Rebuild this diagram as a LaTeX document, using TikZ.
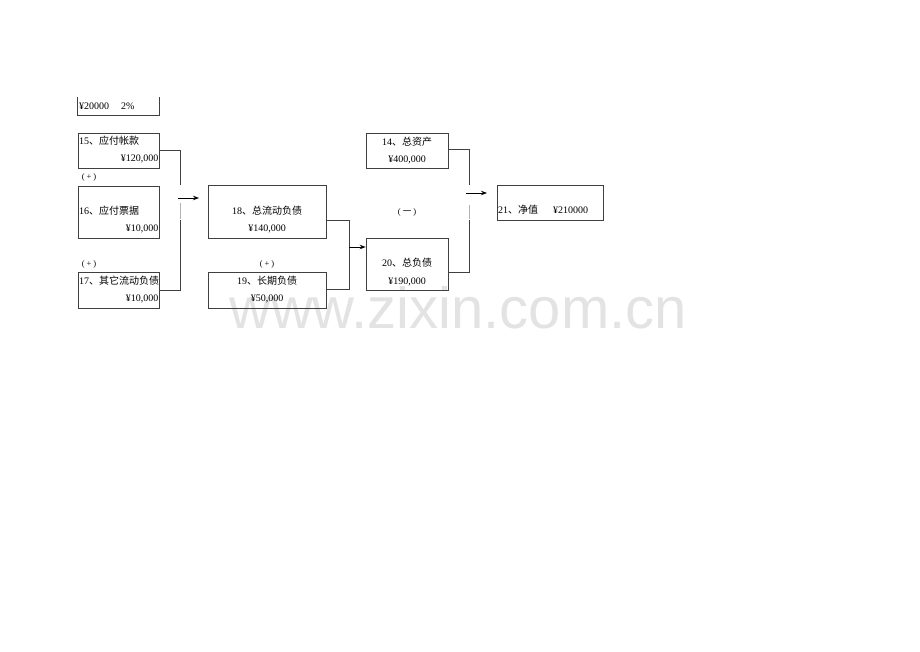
\documentclass[tikz,border=0pt]{standalone}
\usepackage{fontspec}
\setmainfont{Liberation Serif}
\newfontfamily\cjk{Noto Sans CJK SC}
\newfontfamily\wmfont{Liberation Sans}
\usepackage{tikz}
\usetikzlibrary{positioning,arrows.meta}

\begin{document}
\begin{tikzpicture}[>={Stealth[length=6pt,width=4.5pt]}, x=1pt, y=-1pt,
    acct/.style={draw=black!75, line width=0.6pt, inner sep=0pt},
    txt/.style={inner sep=0pt, text height=7pt, text depth=1.5pt,
      font=\fontsize{10}{11}\selectfont},
    sign/.style={inner sep=0pt, text height=6pt, text depth=1.5pt,
      font=\fontsize{8.5}{9}\selectfont},
    link/.style={draw=black!75, line width=0.6pt},
    gaplink/.style={draw=black!30, line width=0.8pt},
    flow/.style={->, line width=1pt}]
    \useasboundingbox (0,0) rectangle (920,651);

    % Watermark
    \node[inner sep=0pt, anchor=base, text=black!11,
      font=\wmfont\fontsize{58}{58}\selectfont] (mark) at (458,328) {www.zixin.com.cn};

    % Remains of the box above
    \draw[acct] (77,97) -- (77,115) -- (159,115) -- (159,97);
    \node[txt, anchor=west] (rate) at (79,107) {¥20000\hspace{1.2em}2\%};

    % Current liabilities
    \node[acct, minimum width=81pt, minimum height=35pt] (b15) at (118.5,150.5) {};
    \node[acct, minimum width=81pt, minimum height=52pt] (b16) at (118.5,212) {};
    \node[acct, minimum width=81pt, minimum height=36pt] (b17) at (118.5,290) {};
    \node[txt, anchor=west] (t15) at (79,142) {15{\cjk 、应付帐款}};
    \node[txt, anchor=east] (v15) at (158.5,159) {¥120,000};
    \node[txt, anchor=west] (t16) at (79,212) {16{\cjk 、应付票据}};
    \node[txt, anchor=east] (v16) at (158.5,229) {¥10,000};
    \node[txt, anchor=west] (t17) at (79,282) {17{\cjk 、其它流动负债}};
    \node[txt, anchor=east] (v17) at (158.5,299) {¥10,000};
    \node[sign] (p1) at (89,177) {(\hspace{2pt}+\hspace{2pt})};
    \node[sign] (p2) at (89,264) {(\hspace{2pt}+\hspace{2pt})};

    % Total current and long-term liabilities
    \node[acct, minimum width=118pt, minimum height=53pt] (b18) at (267,211.5) {};
    \node[acct, minimum width=118pt, minimum height=36pt] (b19) at (267,290) {};
    \node[txt] (t18) at (267,212) {18{\cjk 、总流动负债}};
    \node[txt] (v18) at (267,229) {¥140,000};
    \node[txt] (t19) at (267,282) {19{\cjk 、长期负债}};
    \node[txt] (v19) at (267,299) {¥50,000};
    \node[sign] (p3) at (267,264) {(\hspace{2pt}+\hspace{2pt})};

    % Assets and liabilities
    \node[acct, minimum width=82pt, minimum height=35pt] (b14) at (407,150.5) {};
    \node[acct, minimum width=82pt, minimum height=52pt] (b20) at (407,264) {};
    \node[txt] (t14) at (407,143) {14{\cjk 、总资产}};
    \node[txt] (v14) at (407,160) {¥400,000};
    \node[txt] (t20) at (407,264) {20{\cjk 、总负债}};
    \node[txt] (v20) at (407,282) {¥190,000};
    \node[sign] (m1) at (407,212) {(\hspace{2pt}{\cjk 一}\hspace{2pt})};

    % Net worth
    \node[acct, minimum width=106pt, minimum height=35pt] (b21) at (550,202.5) {};
    \node[txt, anchor=west] (t21) at (498,211) {21{\cjk 、净值}\hspace{1.5em}¥210000};

    % First sum
    \coordinate (j1a) at (180,185);
    \coordinate (j1b) at (180,203);
    \coordinate (j1c) at (180,220);
    \draw[link] (b15.east) -| (j1a);
    \draw[gaplink] (j1b) -- (180,219);
    \draw[link] (b17.east) -| (j1c);
    \coordinate (a1) at (178,198);
    \coordinate (a1e) at (199,198);
    \draw[flow] (a1) -- (a1e);

    % Second sum
    \coordinate (j2s) at (326,220);
    \coordinate (j2e) at (326,289);
    \draw[link] (j2s) -| (349,289) -- (j2e);
    \coordinate (a2) at (349,247);
    \draw[flow] (a2) -- (b20.west |- a2);

    % Difference
    \coordinate (j3s) at (448,149);
    \coordinate (j3a) at (469,185);
    \coordinate (j3b) at (469,205);
    \coordinate (j3c) at (469,220);
    \coordinate (j3e) at (448,272);
    \draw[link] (j3s) -| (j3a);
    \draw[gaplink] (j3b) -- (469,219);
    \draw[link] (j3e) -| (j3c);
    \coordinate (a3) at (466,193);
    \coordinate (a3e) at (487,193);
    \draw[flow] (a3) -- (a3e);
\end{tikzpicture}
\end{document}
